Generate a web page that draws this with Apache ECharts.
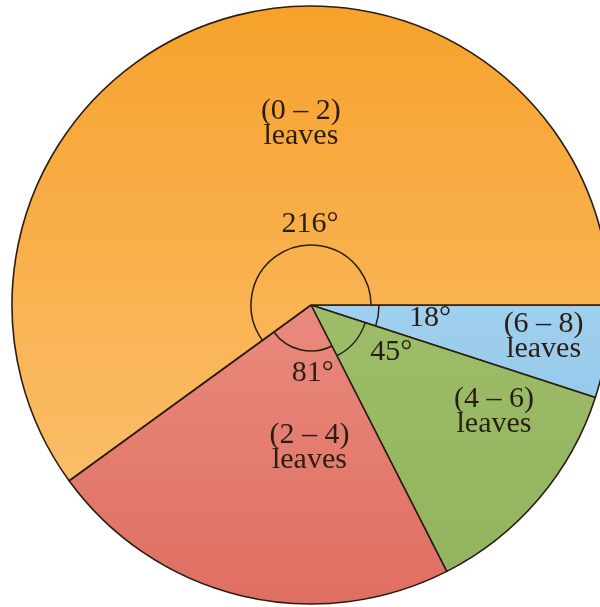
<!DOCTYPE html>
<html>
<head>
<meta charset="utf-8">
<script src="https://cdn.jsdelivr.net/npm/echarts@6/dist/echarts.min.js"></script>
<style>html,body{margin:0;padding:0;background:#fff;}#c{width:600px;height:607px;}</style>
</head>
<body>
<div id="c"></div>
<script>
// Data (degrees of each sector), listed clockwise starting from the 3 o'clock direction
const categories = ["(6 – 8)\nleaves", "(4 – 6)\nleaves", "(2 – 4)\nleaves", "(0 – 2)\nleaves"];
const degrees = [18, 45, 81, 216];
const angleLabels = ["18°", "45°", "81°", "216°"];

// Styling
const colorsTop = ["#9fd0ef", "#9dbd68", "#e98a7d", "#f6a22c"];
const colorsBottom = ["#97c9ea", "#93b45f", "#df6e62", "#fbbd68"];
const nameOffsets = [[82, 8], [67, 8], [34, -6], [37, -36]];
const angleOffsets = [[42, 1], [21, -4], [20, -8], [23, -7]];
const arcRadii = [68, 57, 46, 60];
const CX = 311, CY = 305, R = 299;
const FONT = "'Liberation Serif','Times New Roman',serif";
const INK = "#2b1d12";

const chart = echarts.init(document.getElementById('c'));

const mainData = categories.map((name, i) => ({
  name: name,
  value: degrees[i],
  itemStyle: {
    color: new echarts.graphic.LinearGradient(0, 0, 0, 1, [
      { offset: 0, color: colorsTop[i] },
      { offset: 1, color: colorsBottom[i] }
    ])
  },
  label: { offset: nameOffsets[i] }
}));

const angleData = angleLabels.map((lab, i) => ({
  name: lab,
  value: degrees[i],
  label: { offset: angleOffsets[i] }
}));

// Angle-marker arcs, derived from the data
const total = degrees.reduce((a, b) => a + b, 0);
let acc = 0;
const arcs = degrees.map((d, i) => {
  const s = acc / total * Math.PI * 2;
  acc += d;
  const e = acc / total * Math.PI * 2;
  return {
    type: 'arc',
    silent: true,
    z: 100,
    shape: { cx: CX, cy: CY, r: arcRadii[i], startAngle: s, endAngle: e, clockwise: true },
    style: { stroke: INK, lineWidth: 1.5, fill: null }
  };
});

chart.setOption({
  animation: false,
  backgroundColor: '#ffffff',
  graphic: arcs,
  series: [
    {
      type: 'pie',
      center: [CX, CY],
      radius: [0, R],
      startAngle: 0,
      clockwise: true,
      minAngle: 0,
      avoidLabelOverlap: false,
      itemStyle: { borderColor: INK, borderWidth: 1.6 },
      label: {
        show: true,
        position: 'inside',
        formatter: '{b}',
        fontFamily: FONT,
        fontSize: 30,
        lineHeight: 25,
        color: INK
      },
      labelLine: { show: false },
      emphasis: { disabled: true },
      data: mainData
    },
    {
      type: 'pie',
      center: [CX, CY],
      radius: [0, 150],
      startAngle: 0,
      clockwise: true,
      silent: true,
      z: 3,
      avoidLabelOverlap: false,
      itemStyle: { color: 'rgba(0,0,0,0)', borderWidth: 0 },
      label: {
        show: true,
        position: 'inside',
        formatter: '{b}',
        fontFamily: FONT,
        fontSize: 30,
        color: INK
      },
      labelLine: { show: false },
      emphasis: { disabled: true },
      data: angleData
    }
  ]
});
</script>
</body>
</html>
